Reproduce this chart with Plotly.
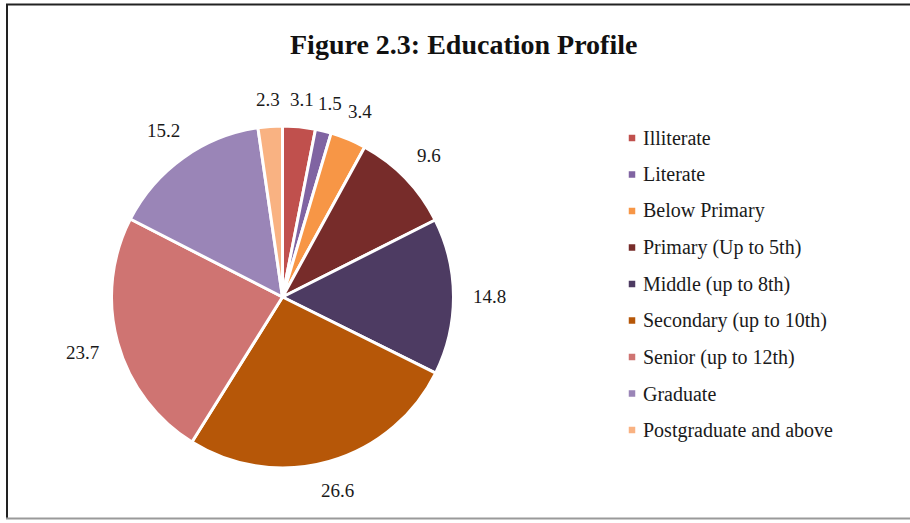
import math
import plotly.graph_objects as go

# Education levels and their shares (%)
categories = [
    "Illiterate",
    "Literate",
    "Below Primary",
    "Primary (Up to 5th)",
    "Middle (up to 8th)",
    "Secondary (up to 10th)",
    "Senior (up to 12th)",
    "Graduate",
    "Postgraduate and above",
]
shares = [3.1, 1.5, 3.4, 9.6, 14.8, 26.6, 23.7, 15.2, 2.3]
colors = [
    "#c0504d", "#8064a2", "#f79646", "#772c2a", "#4d3b62",
    "#b65708", "#cf7472", "#9a85b7", "#f9b282",
]
title_text = "Figure 2.3: Education Profile"

W, H = 910, 523
serif = "Liberation Serif, Times New Roman, serif"

# pie geometry in pixels
cx, cy, r = 282.5, 297.0, 171.0


def px(x):
    return x / W


def py(y):
    return 1 - y / H


fig = go.Figure(
    go.Pie(
        labels=categories,
        values=shares,
        sort=False,
        direction="clockwise",
        rotation=0,
        marker=dict(colors=colors, line=dict(color="white", width=3)),
        textinfo="none",
        showlegend=False,
        domain=dict(x=[px(cx - r), px(cx + r)], y=[py(cy + r), py(cy - r)]),
    )
)

annotations = []
label_font = dict(family=serif, size=19, color="#1a1a1a")
legend_font = dict(family=serif, size=20, color="#1a1a1a")

# value labels placed just outside each slice, along its mid-angle
total = sum(shares)
cum = 0.0
for v in shares:
    mid = (cum + v / 2) / total * 2 * math.pi
    cum += v
    ux, uy = math.sin(mid), -math.cos(mid)
    txt = f"{v:.1f}"
    tw = 9.5 * len(txt) - 5
    th = 14
    d = r + 19 + (tw / 2) * abs(ux) + (th / 2) * abs(uy)
    annotations.append(
        dict(
            x=px(cx + d * ux), y=py(cy + d * uy), xref="paper", yref="paper",
            text=txt, showarrow=False, font=label_font,
            xanchor="center", yanchor="middle",
        )
    )

# custom legend
shapes = []
leg_x, leg_y0, leg_step, sq = 632.0, 138.0, 36.5, 6.5
for i, (name, col) in enumerate(zip(categories, colors)):
    yy = leg_y0 + i * leg_step
    shapes.append(
        dict(
            type="rect", xref="paper", yref="paper",
            x0=px(leg_x - sq / 2), x1=px(leg_x + sq / 2),
            y0=py(yy + sq / 2), y1=py(yy - sq / 2),
            fillcolor=col, line=dict(width=0),
        )
    )
    annotations.append(
        dict(
            x=px(leg_x + 9), y=py(yy), xref="paper", yref="paper",
            text=name, showarrow=False, font=legend_font,
            xanchor="left", yanchor="middle",
        )
    )

# title
annotations.append(
    dict(
        x=px(463), y=py(44), xref="paper", yref="paper",
        text=f"<b>{title_text}</b>", showarrow=False,
        font=dict(family=serif, size=28, color="#111111"),
        xanchor="center", yanchor="middle",
    )
)

# frame lines (left, top, bottom)
shapes += [
    dict(type="line", xref="paper", yref="paper", x0=px(7), x1=px(7),
         y0=py(4.5), y1=py(519), line=dict(color="#222222", width=2)),
    dict(type="line", xref="paper", yref="paper", x0=px(6), x1=1,
         y0=py(4.5), y1=py(4.5), line=dict(color="#222222", width=2)),
    dict(type="line", xref="paper", yref="paper", x0=px(6), x1=1,
         y0=py(518.5), y1=py(518.5), line=dict(color="#9a9a9a", width=2)),
]

fig.update_layout(
    width=W, height=H,
    margin=dict(l=0, r=0, t=0, b=0),
    paper_bgcolor="white", plot_bgcolor="white",
    annotations=annotations, shapes=shapes,
)

fig.write_html("out.html")
